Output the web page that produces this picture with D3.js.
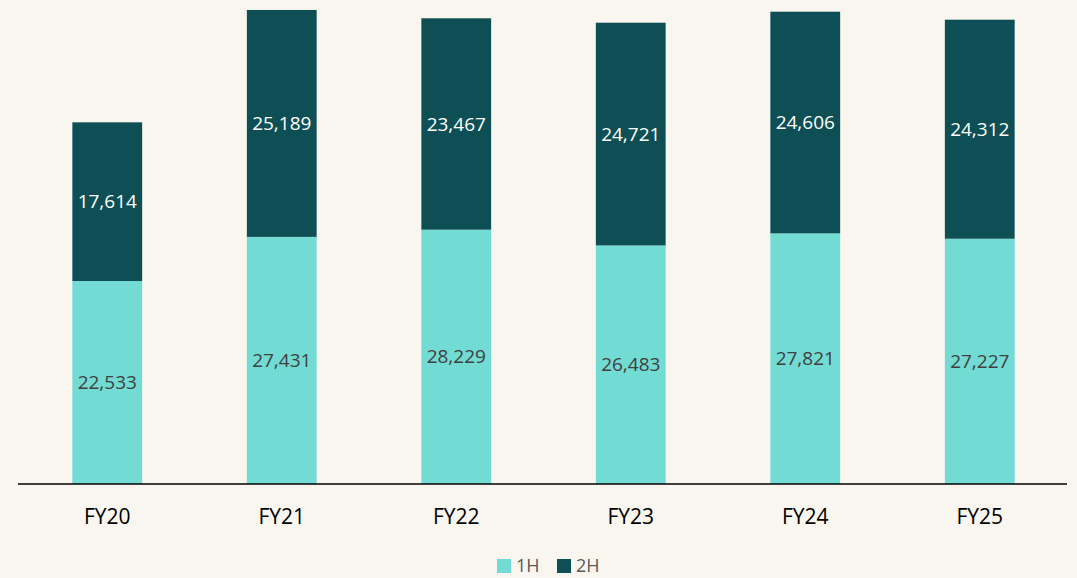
<meta charset="utf-8">
<style>
body { margin: 0; background: #f9f6ef; font-family: 'Open Sans', sans-serif; }
.axis path, .axis line { stroke: #000; stroke-width: 1.5; }
</style>
<body>
<div id="chart"></div>
<script src="https://d3js.org/d3.v7.min.js"></script>
<script>
var categories = ["FY20", "FY21", "FY22", "FY23", "FY24", "FY25"];
var firstHalf = [22533, 27431, 28229, 26483, 27821, 27227];
var secondHalf = [17614, 25189, 23467, 24721, 24606, 24312];
var seriesNames = ["1H", "2H"];
var seriesColors = ["#72dbd3", "#0d4f54"];

var width = 1077,
    height = 578,
    margin = {top: 0, right: 10, bottom: 94, left: 20};

var svg = d3.select("#chart").append("svg")
    .attr("width", width)
    .attr("height", height);

var rows = categories.map(function(c, i) {
  return {cat: c, "1H": firstHalf[i], "2H": secondHalf[i]};
});
var stacked = d3.stack().keys(seriesNames)(rows);

var x = d3.scaleBand().domain(categories)
    .range([margin.left, width - margin.right])
    .paddingInner(0.6).paddingOuter(0.3);
// 111 units per pixel, baseline at 484
var y = d3.scaleLinear().domain([0, 53726]).range([height - margin.bottom, 0]);

var color = d3.scaleOrdinal().domain(seriesNames).range(seriesColors);

var layer = svg.selectAll(".layer")
    .data(stacked)
    .enter().append("g")
    .attr("class", "layer")
    .attr("fill", function(d) { return color(d.key); });

layer.selectAll("rect")
    .data(function(d) { return d; })
    .enter().append("rect")
    .attr("x", function(d) { return x(d.data.cat); })
    .attr("y", function(d) { return y(d[1]); })
    .attr("width", x.bandwidth())
    .attr("height", function(d) { return y(d[0]) - y(d[1]); });

// value labels in the middle of each segment
layer.selectAll("text")
    .data(function(d) { return d.map(function(p) { p.key = d.key; return p; }); })
    .enter().append("text")
    .attr("x", function(d) { return x(d.data.cat) + x.bandwidth() / 2; })
    .attr("y", function(d) { return (y(d[0]) + y(d[1])) / 2; })
    .attr("dy", "0.35em")
    .attr("text-anchor", "middle")
    .attr("font-size", 19)
    .attr("fill", function(d) { return d.key === "1H" ? "#404040" : "#ffffff"; })
    .text(function(d) { return d3.format(",")(d.data[d.key]); });

// x axis
var xAxis = svg.append("g")
    .attr("class", "axis")
    .attr("transform", "translate(0," + y(0) + ")")
    .call(d3.axisBottom(x).tickSize(0).tickPadding(25));
xAxis.select(".domain").attr("d", "M18,0H1067");
xAxis.selectAll("text")
    .attr("font-family", "'Open Sans', sans-serif")
    .attr("font-size", 21)
    .attr("fill", "#000");

// legend
var legend = svg.append("g")
    .selectAll("g")
    .data(seriesNames)
    .enter().append("g")
    .attr("transform", function(d, i) { return "translate(" + (497 + i * 60) + ",559)"; });

legend.append("rect")
    .attr("width", 14)
    .attr("height", 14)
    .attr("fill", color);

legend.append("text")
    .attr("x", 19)
    .attr("y", 7)
    .attr("dy", "0.35em")
    .attr("font-size", 18)
    .attr("fill", "#595959")
    .text(function(d) { return d; });
</script>
</body>
